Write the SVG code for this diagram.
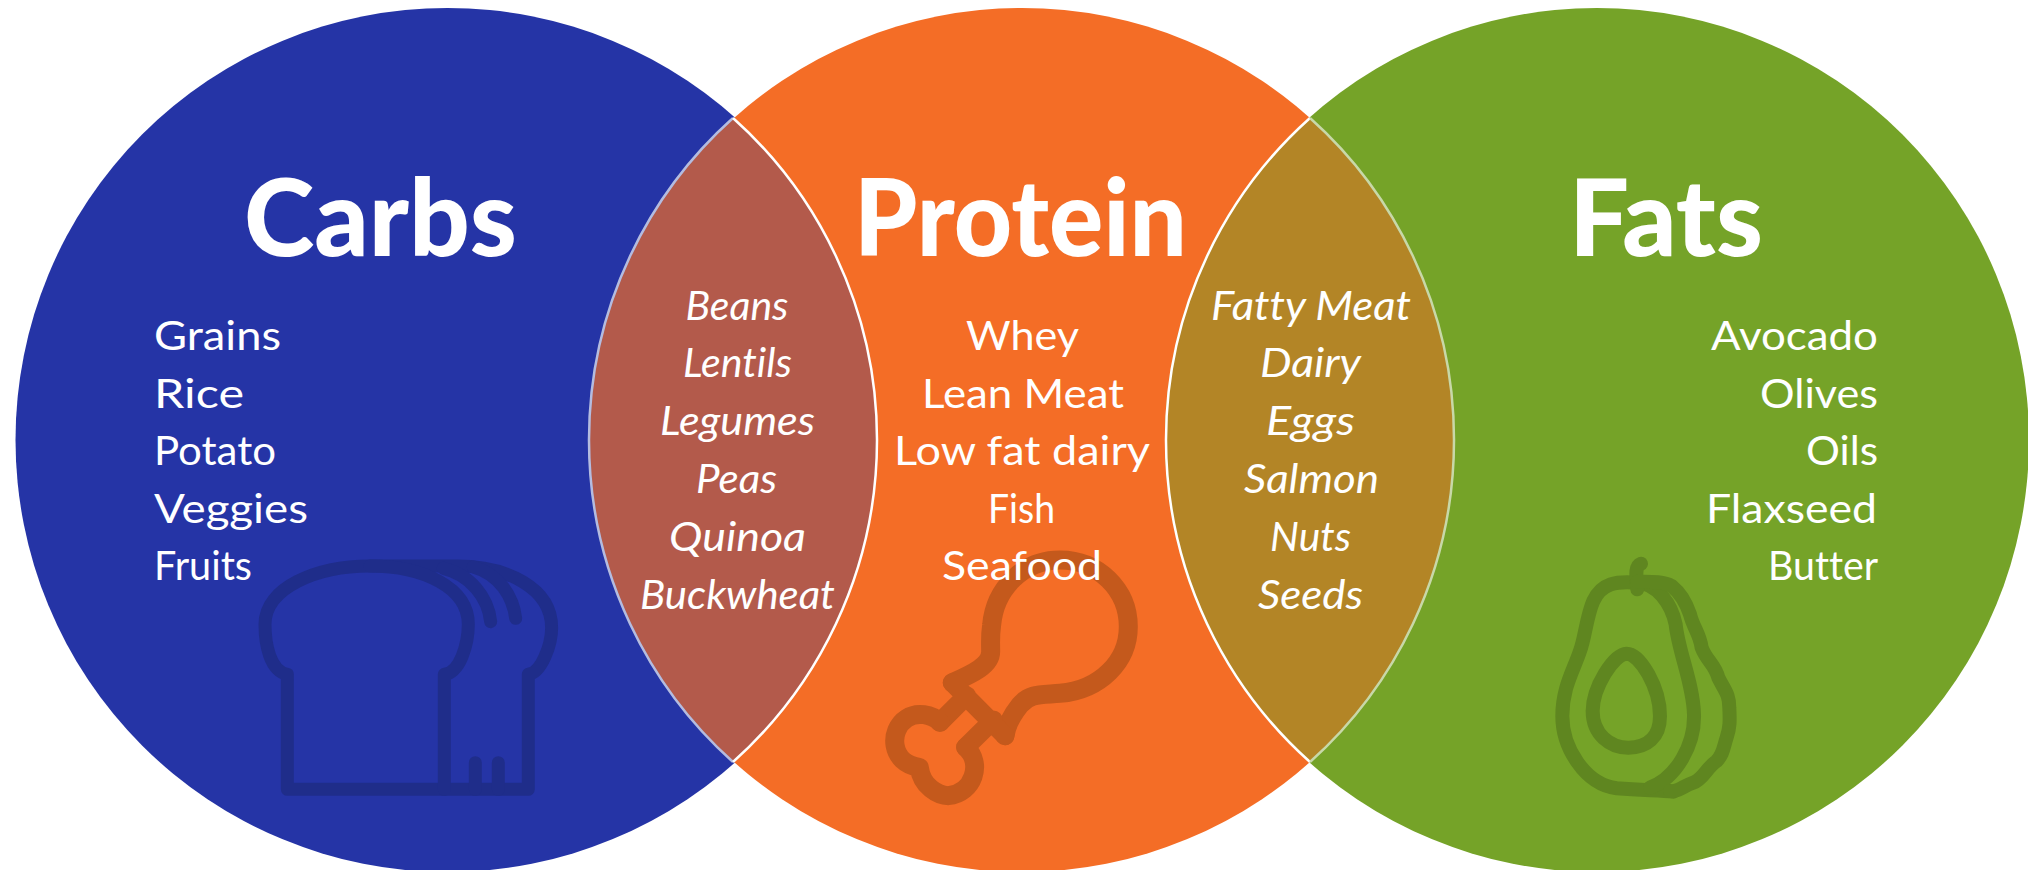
<svg xmlns="http://www.w3.org/2000/svg" width="2028" height="870" viewBox="0 0 2028 870">
<style>
text{font-family:Lato,"Noto Sans","Liberation Sans",sans-serif;fill:#fff;font-size:40px;font-variant-ligatures:none}
.t{font-size:106px;font-weight:900}
.i{font-style:italic}
.ic{fill:none;stroke-linecap:round;stroke-linejoin:round}
</style>
<rect width="2028" height="870" fill="#fff"/>
<g id="carbs">
<circle cx="447.500" cy="440" r="432" fill="#2534A6"/>
<g class="ic" stroke="#1F2D8A" stroke-width="39" transform="translate(230 531) scale(.3333)">
<path d="M172 430C120 420 105 340 105 280C105 170 260 105 420 105H680C830 105 965 170 965 290C965 340 935 425 895 430V775H172Z"/>
<path d="M643 775V430C690 425 715 340 715 280C715 170 580 105 420 105"/>
<path d="M782 272C775 200 720 130 640 112M857 262C850 200 810 130 730 108M736 695V775M805 695V775"/>
</g>
<text class="t" x="244" y="256" textLength="273" lengthAdjust="spacingAndGlyphs">Carbs</text>
<text x="154" y="350" textLength="127" lengthAdjust="spacingAndGlyphs">Grains</text>
<text x="154" y="407.500" textLength="90" lengthAdjust="spacingAndGlyphs">Rice</text>
<text x="154" y="465" textLength="122" lengthAdjust="spacingAndGlyphs">Potato</text>
<text x="154" y="522.500" textLength="154" lengthAdjust="spacingAndGlyphs">Veggies</text>
<text x="154" y="580" textLength="98" lengthAdjust="spacingAndGlyphs">Fruits</text>
</g>
<g id="protein">
<circle cx="1022" cy="440" r="432" fill="#F46D26"/>
<g class="ic" stroke="#C4591C" stroke-width="57" transform="translate(860 530) scale(.3333)">
<path d="M277 458C340 430 392 405 392 365C392 335 390 320 395 285C405 175 490 90 600 90C715 90 805 180 805 290C805 395 720 480 600 490C540 495 510 490 480 525C460 550 440 580 435 617"/>
<path d="M277 458L435 617M240 577L320 497M317 652L400 570"/>
<path d="M240 577C215 552 170 545 140 565C85 600 90 700 178 712C185 770 235 797 265 797C340 790 370 700 317 652"/>
</g>
<text class="t" x="854" y="256" textLength="333" lengthAdjust="spacingAndGlyphs">Protein</text>
<text x="966" y="350" textLength="113" lengthAdjust="spacingAndGlyphs">Whey</text>
<text x="922" y="407.500" textLength="202" lengthAdjust="spacingAndGlyphs">Lean Meat</text>
<text x="894" y="465" textLength="256" lengthAdjust="spacingAndGlyphs">Low fat dairy</text>
<text x="988" y="522.500" textLength="67" lengthAdjust="spacingAndGlyphs">Fish</text>
<text x="942" y="580" textLength="160" lengthAdjust="spacingAndGlyphs">Seafood</text>
</g>
<g id="fats">
<circle cx="1597" cy="440" r="432" fill="#75A328"/>
<g class="ic" stroke="#5F8620" stroke-width="42" transform="translate(1530 541) scale(.3333)">
<path d="M322 125C260 120 215 125 190 180C170 225 165 290 150 330C130 390 97 440 97 525C97 620 165 730 260 742C340 748 390 748 430 752"/>
<path d="M322 125C380 125 425 190 437 250C445 330 490 430 492 520C495 610 440 710 360 740"/>
<path d="M290 338C250 340 188 440 188 510C188 580 240 620 295 620C350 620 390 590 390 525C390 440 330 338 290 338Z"/>
<path d="M333 68C315 75 318 100 322 145"/>
<path d="M322 122C360 122 400 120 425 135C450 155 470 190 480 220C490 260 510 280 515 320C530 360 555 370 565 410C585 450 598 460 598 500C600 540 600 560 590 590C580 620 580 640 560 660C530 680 520 715 490 725C460 735 440 755 420 750"/>
</g>
<text class="t" x="1569" y="256" textLength="194" lengthAdjust="spacingAndGlyphs">Fats</text>
<text x="1711" y="350" textLength="167" lengthAdjust="spacingAndGlyphs">Avocado</text>
<text x="1760" y="407.500" textLength="118" lengthAdjust="spacingAndGlyphs">Olives</text>
<text x="1806" y="465" textLength="72" lengthAdjust="spacingAndGlyphs">Oils</text>
<text x="1706" y="522.500" textLength="171" lengthAdjust="spacingAndGlyphs">Flaxseed</text>
<text x="1768" y="580" textLength="110" lengthAdjust="spacingAndGlyphs">Butter</text>
</g>
<g id="overlap-carbs-protein">
<path d="M733 118A432 432 0 0 1 733 762A432 432 0 0 1 733 118Z" fill="#B35A4B"/>
<path d="M733 118A432 432 0 0 0 733 762" fill="none" stroke="#B4BCE0" stroke-width="2.500"/>
<path d="M733 118A432 432 0 0 1 733 762" fill="none" stroke="#fff" stroke-width="2.500"/>
<text class="i" x="685.500" y="319.500" textLength="103" lengthAdjust="spacingAndGlyphs">Beans</text>
<text class="i" x="683" y="377.300" textLength="109" lengthAdjust="spacingAndGlyphs">Lentils</text>
<text class="i" x="660" y="435" textLength="155" lengthAdjust="spacingAndGlyphs">Legumes</text>
<text class="i" x="696" y="492.800" textLength="81" lengthAdjust="spacingAndGlyphs">Peas</text>
<text class="i" x="669" y="550.600" textLength="137" lengthAdjust="spacingAndGlyphs">Quinoa</text>
<text class="i" x="640" y="608.500" textLength="195" lengthAdjust="spacingAndGlyphs">Buckwheat</text>
</g>
<g id="overlap-protein-fats">
<path d="M1310 118A432 432 0 0 1 1310 762A432 432 0 0 1 1310 118Z" fill="#B38526"/>
<path d="M1310 118A432 432 0 0 0 1310 762" fill="none" stroke="#fff" stroke-width="2.500"/>
<path d="M1310 118A432 432 0 0 1 1310 762" fill="none" stroke="#C8D8A8" stroke-width="2.500"/>
<text class="i" x="1211" y="319.500" textLength="200" lengthAdjust="spacingAndGlyphs">Fatty Meat</text>
<text class="i" x="1260" y="377.300" textLength="101" lengthAdjust="spacingAndGlyphs">Dairy</text>
<text class="i" x="1266" y="435" textLength="89" lengthAdjust="spacingAndGlyphs">Eggs</text>
<text class="i" x="1244" y="492.800" textLength="135" lengthAdjust="spacingAndGlyphs">Salmon</text>
<text class="i" x="1270" y="550.600" textLength="81" lengthAdjust="spacingAndGlyphs">Nuts</text>
<text class="i" x="1258" y="608.500" textLength="105" lengthAdjust="spacingAndGlyphs">Seeds</text>
</g>
</svg>
